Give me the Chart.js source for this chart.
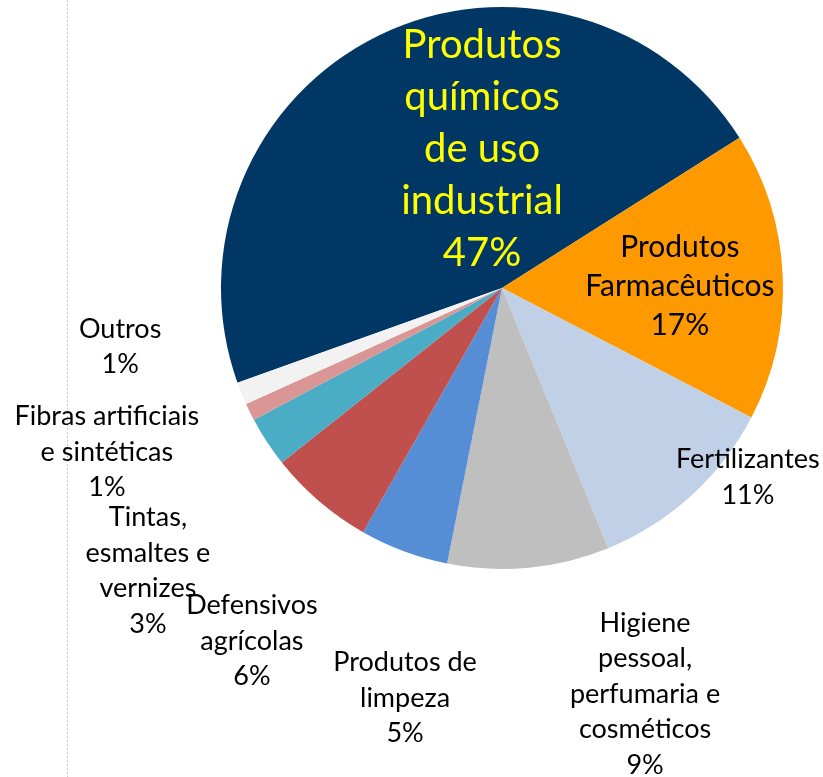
<!DOCTYPE html>
<html>
<head>
<meta charset="utf-8">
<script src="https://cdn.jsdelivr.net/npm/chart.js@4/dist/chart.umd.min.js"></script>
<style>
html,body{margin:0;padding:0;background:#fff;}
#wrap{width:823px;height:777px;position:relative;}
</style>
</head>
<body>
<div id="wrap"><canvas id="c" width="823" height="777"></canvas></div>
<script>
// ---- data ----
const categories = [
  'Produtos químicos de uso industrial',
  'Produtos Farmacêuticos',
  'Fertilizantes',
  'Higiene pessoal, perfumaria e cosméticos',
  'Produtos de limpeza',
  'Defensivos agrícolas',
  'Tintas, esmaltes e vernizes',
  'Fibras artificiais e sintéticas',
  'Outros'
];
const shares = [46.5, 16.6, 11.2, 9.3, 5.1, 6.1, 2.9, 1.0, 1.3];
const labelLines = [
  ['Produtos', 'químicos', 'de uso', 'industrial'],
  ['Produtos', 'Farmacêuticos'],
  ['Fertilizantes'],
  ['Higiene', 'pessoal,', 'perfumaria e', 'cosméticos'],
  ['Produtos de', 'limpeza'],
  ['Defensivos', 'agrícolas'],
  ['Tintas,', 'esmaltes e', 'vernizes'],
  ['Fibras artificiais', 'e sintéticas'],
  ['Outros']
];

// ---- style ----
const colors = ['#003764', '#FF9900', '#C0D1E7', '#BFBFBF', '#568ED6', '#C0504D', '#4BACC6', '#D99694', '#F2F2F2'];
// label block centre, as fraction of radius from pie centre
const labelPos = [
  [-0.071, -0.496], [0.633, -0.007], [0.875, 0.673], [0.509, 1.445], [-0.345, 1.459],
  [-0.890, 1.256], [-1.260, 1.007], [-1.406, 0.584], [-1.359, 0.210]
];
const labelFont = [[40, 52, '#FFFF00'], [30, 39, '#000000']];
const defaultFont = [27, 35.5, '#000000'];
const FONT = 'Lato, "Open Sans", sans-serif';

const labelPlugin = {
  id: 'labels',
  beforeDraw(chart) {
    const ctx = chart.ctx;
    ctx.save();
    ctx.strokeStyle = '#c8c8c8';
    ctx.lineWidth = 1;
    ctx.setLineDash([2, 2]);
    ctx.beginPath();
    ctx.moveTo(67.5, 0);
    ctx.lineTo(67.5, 777);
    ctx.stroke();
    ctx.restore();
  },
  afterDatasetsDraw(chart) {
    const ctx = chart.ctx;
    const meta = chart.getDatasetMeta(0);
    const arc0 = meta.data[0];
    const cx = arc0.x, cy = arc0.y, r = arc0.outerRadius;
    const total = shares.reduce((a, b) => a + b, 0);
    ctx.save();
    ctx.textAlign = 'center';
    ctx.textBaseline = 'middle';
    shares.forEach((v, i) => {
      const lines = labelLines[i].concat([Math.round(v / total * 100) + '%']);
      const [size, lh, col] = labelFont[i] || defaultFont;
      ctx.font = size + 'px ' + FONT;
      ctx.fillStyle = col;
      const bx = cx + labelPos[i][0] * r;
      const by = cy + labelPos[i][1] * r;
      const y0 = by - (lines.length - 1) * lh / 2;
      lines.forEach((t, k) => ctx.fillText(t, bx, y0 + k * lh));
    });
    ctx.restore();
  }
};

new Chart(document.getElementById('c'), {
  type: 'pie',
  data: {
    labels: categories,
    datasets: [{
      data: shares,
      backgroundColor: colors,
      borderWidth: 0,
      hoverOffset: 0,
      offset: 0
    }]
  },
  options: {
    responsive: false,
    animation: false,
    events: [],
    rotation: -109.7,
    layout: { padding: { left: 221, right: 40, top: 7, bottom: 208 } },
    plugins: { legend: { display: false }, tooltip: { enabled: false } }
  },
  plugins: [labelPlugin]
});
</script>
</body>
</html>
